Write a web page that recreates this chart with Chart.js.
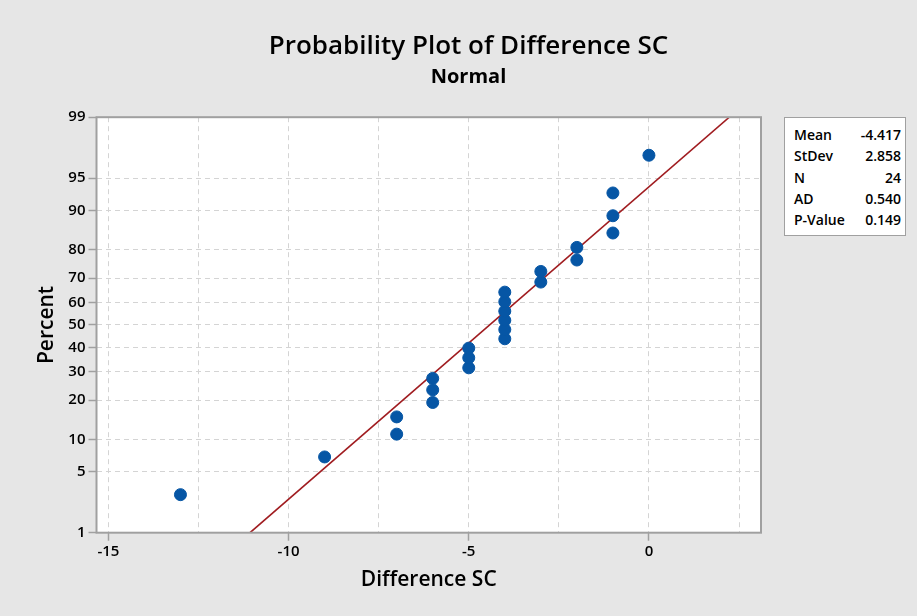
<!DOCTYPE html>
<html>
<head>
<meta charset="utf-8">
<title>Probability Plot of Difference SC</title>
<script src="https://cdn.jsdelivr.net/npm/chart.js@4.4.1/dist/chart.umd.min.js"></script>
<style>
  body { margin: 0; background: #e6e6e6; font-family: "Open Sans", sans-serif; }
  #wrap { position: relative; width: 917px; height: 616px; }
  #stats {
    position: absolute; left: 784px; top: 117px; width: 122px; height: 119px;
    background: #fff; border: 1px solid #a0a0a0;
    font: 600 14px "Open Sans", sans-serif; color: #000;
    padding-top: 6px; box-sizing: border-box;
  }
  #stats table { border-collapse: collapse; width: 100%; }
  #stats td { padding: 0; height: 21.3px; line-height: 21.3px; }
  #stats td.k { padding-left: 9px; }
  #stats td.v { text-align: right; padding-right: 4px; }
</style>
</head>
<body>
<div id="wrap">
  <canvas id="plot" width="917" height="616"></canvas>
  <div id="stats"><table id="statTable"></table></div>
</div>
<script>
// data
const diffValues = [-13, -9, -7, -7, -6, -6, -6, -5, -5, -5, -4, -4, -4, -4, -4, -4, -3, -3, -2, -2, -1, -1, -1, 0];
const percentValues = [2.87, 6.97, 11.07, 15.16, 19.26, 23.36, 27.46, 31.56, 35.66, 39.75, 43.85, 47.95,
  52.05, 56.15, 60.25, 64.34, 68.44, 72.54, 76.64, 80.74, 84.84, 88.93, 93.03, 97.13];
const fitX = [-11.07, 2.23];
const fitPercent = [1, 99];
const percentTicks = [1, 5, 10, 20, 30, 40, 50, 60, 70, 80, 90, 95, 99];
const xTicks = [-15, -12.5, -10, -7.5, -5, -2.5, 0, 2.5];
const statLabels = ['Mean', 'StDev', 'N', 'AD', 'P-Value'];
const statValues = ['-4.417', '2.858', '24', '0.540', '0.149'];

// inverse normal cdf (Acklam), used to put percent on the probability scale
function probit(p) {
  const a = [-39.69683028665376, 220.9460984245205, -275.9285104469687, 138.3577518672690, -30.66479806614716, 2.506628277459239];
  const b = [-54.47609879822406, 161.5858368580409, -155.6989798598866, 66.80131188771972, -13.28068155288572];
  const c = [-0.007784894002430293, -0.3223964580411365, -2.400758277161838, -2.549732539343734, 4.374664141464968, 2.938163982698783];
  const d = [0.007784695709041462, 0.3224671290700398, 2.445134137142996, 3.754408661907416];
  const pl = 0.02425;
  let q, r;
  if (p < pl) {
    q = Math.sqrt(-2 * Math.log(p));
    return (((((c[0]*q+c[1])*q+c[2])*q+c[3])*q+c[4])*q+c[5]) / ((((d[0]*q+d[1])*q+d[2])*q+d[3])*q+1);
  }
  if (p > 1 - pl) {
    q = Math.sqrt(-2 * Math.log(1 - p));
    return -(((((c[0]*q+c[1])*q+c[2])*q+c[3])*q+c[4])*q+c[5]) / ((((d[0]*q+d[1])*q+d[2])*q+d[3])*q+1);
  }
  q = p - 0.5; r = q * q;
  return (((((a[0]*r+a[1])*r+a[2])*r+a[3])*r+a[4])*r+a[5])*q / (((((b[0]*r+b[1])*r+b[2])*r+b[3])*r+b[4])*r+1);
}

const table = document.getElementById('statTable');
statLabels.forEach((k, i) => {
  const tr = document.createElement('tr');
  tr.innerHTML = '<td class="k">' + k + '</td><td class="v">' + statValues[i] + '</td>';
  table.appendChild(tr);
});

const tickFont = { family: 'Open Sans', size: 15, weight: '600' };
const gridGray = '#d4d4d4';
const frameGray = '#a0a0a0';

const plotFrame = {
  id: 'plotFrame',
  beforeDraw(chart) {
    const a = chart.chartArea, ctx = chart.ctx;
    ctx.save();
    ctx.fillStyle = '#fff';
    ctx.fillRect(a.left, a.top, a.right - a.left, a.bottom - a.top);
    ctx.restore();
  },
  afterDraw(chart) {
    const a = chart.chartArea, ctx = chart.ctx;
    ctx.save();
    ctx.strokeStyle = frameGray;
    ctx.lineWidth = 2;
    ctx.strokeRect(a.left, a.top, a.right - a.left, a.bottom - a.top);
    ctx.restore();
  }
};

new Chart(document.getElementById('plot'), {
  type: 'scatter',
  data: {
    datasets: [
      {
        label: 'Difference SC',
        data: diffValues.map((v, i) => ({ x: v, y: probit(percentValues[i] / 100) })),
        backgroundColor: '#0656a5',
        borderColor: '#0656a5',
        pointRadius: 6,
        pointHoverRadius: 6,
        order: 1
      },
      {
        label: 'Fit',
        data: fitX.map((v, i) => ({ x: v, y: probit(fitPercent[i] / 100) })),
        showLine: true,
        borderColor: '#a01c20',
        borderWidth: 1.6,
        pointRadius: 0,
        order: 2
      }
    ]
  },
  options: {
    responsive: false,
    animation: false,
    layout: { padding: { left: 20, right: 0, top: 0, bottom: 0 } },
    plugins: {
      legend: { display: false },
      tooltip: { enabled: false },
      title: {
        display: true,
        text: 'Probability Plot of Difference SC',
        color: '#000',
        font: { family: 'Open Sans', size: 26, weight: '600' },
        padding: { top: 31, bottom: 3 }
      },
      subtitle: {
        display: true,
        text: 'Normal',
        color: '#000',
        font: { family: 'Open Sans', size: 20, weight: '700' },
        padding: { top: 0, bottom: 28 }
      }
    },
    scales: {
      x: {
        type: 'linear',
        min: -15.33,
        max: 3.11,
        afterBuildTicks: s => { s.ticks = xTicks.map(v => ({ value: v })); },
        afterFit: s => { s.height = 83.3; },
        ticks: {
          color: '#000',
          font: tickFont,
          padding: 2,
          maxRotation: 0,
          autoSkip: false,
          callback: v => (v % 5 === 0 ? String(v) : '')
        },
        grid: {
          color: gridGray,
          lineWidth: 1,
          tickLength: 8,
          tickColor: c => (c.tick && c.tick.value % 5 === 0 ? frameGray : 'rgba(0,0,0,0)'),
          tickWidth: 1.5
        },
        border: { display: false, dash: [5, 4] },
        title: {
          display: true,
          text: 'Difference SC',
          color: '#000',
          font: { family: 'Open Sans', size: 21, weight: '600' },
          padding: { top: 0, bottom: 23 }
        }
      },
      y: {
        type: 'linear',
        min: probit(0.01),
        max: probit(0.99),
        afterBuildTicks: s => { s.ticks = percentTicks.map(p => ({ value: probit(p / 100) })); },
        afterFit: s => { s.width = 76.5; },
        ticks: {
          color: '#000',
          font: tickFont,
          padding: 3,
          autoSkip: false,
          callback: (v, i) => String(percentTicks[i])
        },
        grid: {
          color: gridGray,
          lineWidth: 1,
          tickLength: 8,
          tickColor: frameGray,
          tickWidth: 1.5
        },
        border: { display: false, dash: [5, 4] },
        title: {
          display: true,
          text: 'Percent',
          color: '#000',
          font: { family: 'Open Sans', size: 21, weight: '600' },
          padding: { top: 14, bottom: 0 }
        }
      },
      // empty right-hand band that leaves room for the statistics box
      side: {
        axis: 'y',
        type: 'linear',
        position: 'right',
        min: 0,
        max: 1,
        afterFit: s => { s.width = 156; },
        ticks: { display: false },
        grid: { display: false },
        border: { display: false }
      }
    }
  },
  plugins: [plotFrame]
});
</script>
</body>
</html>
